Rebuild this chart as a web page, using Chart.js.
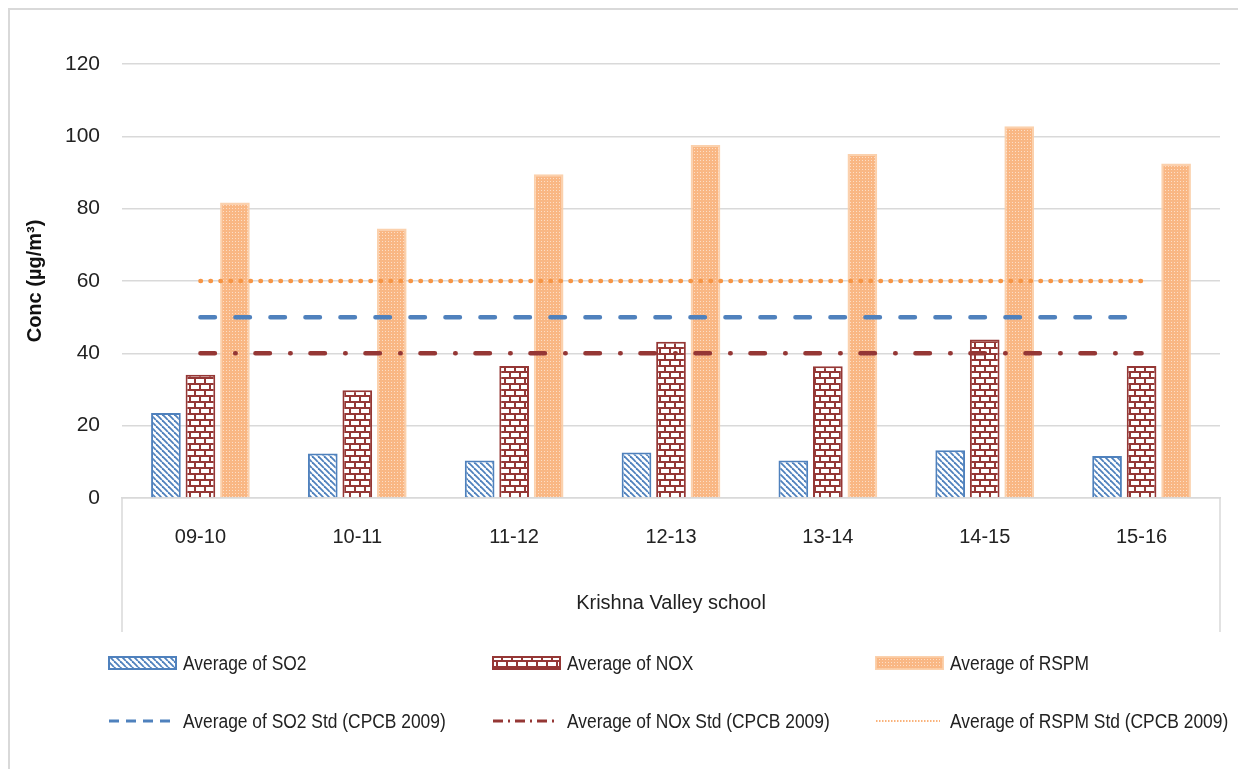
<!DOCTYPE html>
<html>
<head>
<meta charset="utf-8">
<script src="https://cdn.jsdelivr.net/npm/chart.js@4/dist/chart.umd.min.js"></script>
<style>
  html, body { margin: 0; padding: 0; background: #fff; overflow: hidden; }
  #wrap { position: relative; width: 1238px; height: 769px; overflow: hidden; }
  #frame { position: absolute; left: 8px; top: 8px; width: 1300px; height: 800px; border: 2px solid #d9d9d9; }
  #chart { position: absolute; left: 0; top: 0; }
  .leg { position: absolute; display: flex; align-items: center; white-space: nowrap;
         font-family: 'Liberation Sans', Arial, sans-serif; font-size: 20px; color: #222; }
  .leg canvas { margin-right: 5px; }
  .leg span { display: inline-block; transform: scaleX(0.87); transform-origin: left center; }
</style>
</head>
<body>
<div id="wrap">
  <div id="frame"></div>
  <canvas id="chart" width="1238" height="769"></canvas>
  <div id="legend"></div>
</div>
<script>
var categories = ["09-10", "10-11", "11-12", "12-13", "13-14", "14-15", "15-16"];
var so2 = [23.5, 12.3, 10.4, 12.6, 10.4, 13.2, 11.6];
var nox = [34.1, 29.8, 36.5, 43.2, 36.4, 43.8, 36.5];
var rspm = [81.7, 74.5, 89.5, 97.6, 95.1, 102.8, 92.5];
var so2Std = [50, 50, 50, 50, 50, 50, 50];
var noxStd = [40, 40, 40, 40, 40, 40, 40];
var rspmStd = [60, 60, 60, 60, 60, 60, 60];
var yTicks = [0, 20, 40, 60, 80, 100, 120];

var FONT = "'Liberation Sans', Arial, sans-serif";
var BLUE = "#4f81bd";
var RED = "#953735";
var ORANGE = "#f79646";

function makeTile(w, h, draw) {
  var c = document.createElement("canvas");
  c.width = w;
  c.height = h;
  draw(c.getContext("2d"));
  return c;
}

// diagonal hatch for SO2
var tileSO2 = makeTile(6, 6, function (g) {
  g.fillStyle = "#fff";
  g.fillRect(0, 0, 6, 6);
  g.strokeStyle = BLUE;
  g.lineWidth = 1.8;
  for (var k = -6; k <= 6; k += 6) {
    g.beginPath();
    g.moveTo(k, 0);
    g.lineTo(k + 6, 6);
    g.stroke();
  }
});

// brick pattern for NOX
var tileNOX = makeTile(10, 12, function (g) {
  g.fillStyle = RED;
  g.fillRect(0, 0, 10, 12);
  g.fillStyle = "#fff";
  g.fillRect(1, 1, 8, 4);
  g.fillRect(6, 7, 4, 4);
  g.fillRect(0, 7, 4, 4);
});

// fine dotted fill for RSPM
var tileRSPM = makeTile(3, 3, function (g) {
  g.fillStyle = "#f9b784";
  g.fillRect(0, 0, 3, 3);
  g.fillStyle = "rgba(255,255,255,0.55)";
  g.fillRect(1, 1, 1, 1);
});

var ctx = document.getElementById("chart").getContext("2d");
var patSO2 = ctx.createPattern(tileSO2, "repeat");
var patNOX = ctx.createPattern(tileNOX, "repeat");
var patRSPM = ctx.createPattern(tileRSPM, "repeat");

var axisBox = {
  id: "axisBox",
  afterDraw: function (chart) {
    var a = chart.chartArea;
    var xs = chart.scales.x;
    var c = chart.ctx;
    c.save();
    c.strokeStyle = "#d9d9d9";
    c.lineWidth = 1.5;
    c.beginPath();
    c.moveTo(a.left, a.bottom);
    c.lineTo(a.left, xs.bottom);
    c.moveTo(a.right, a.bottom);
    c.lineTo(a.right, xs.bottom);
    c.stroke();
    c.restore();
  }
};

var barCommon = { type: "bar", order: 1, categoryPercentage: 0.66, barPercentage: 0.86, borderWidth: 2 };

var chart = new Chart(ctx, {
  data: {
    labels: categories,
    datasets: [
      Object.assign({ label: "Average of SO2", data: so2, backgroundColor: patSO2, borderColor: BLUE }, barCommon),
      Object.assign({ label: "Average of NOX", data: nox, backgroundColor: patNOX, borderColor: RED }, barCommon),
      Object.assign({ label: "Average of RSPM", data: rspm, backgroundColor: patRSPM, borderColor: "rgba(251,204,164,0.9)" }, barCommon),
      {
        type: "line", order: 0, label: "Average of SO2 Std (CPCB 2009)", data: so2Std,
        borderColor: BLUE, borderWidth: 4.5, borderDash: [14.5, 20.5], borderCapStyle: "round",
        pointRadius: 0, fill: false
      },
      {
        type: "line", order: 0, label: "Average of NOx Std (CPCB 2009)", data: noxStd,
        borderColor: RED, borderWidth: 4.5, borderDash: [14.5, 20.25, 0.5, 19.75], borderCapStyle: "round",
        pointRadius: 0, fill: false
      },
      {
        type: "line", order: 0, label: "Average of RSPM Std (CPCB 2009)", data: rspmStd,
        borderColor: ORANGE, borderWidth: 4.5, borderDash: [0.5, 9.5], borderCapStyle: "round",
        pointRadius: 0, fill: false
      }
    ]
  },
  options: {
    responsive: false,
    animation: false,
    devicePixelRatio: 1,
    layout: { padding: { left: 10, top: 64, right: 18, bottom: 137 } },
    plugins: { legend: { display: false }, tooltip: { enabled: false } },
    scales: {
      x: {
        offset: true,
        grid: { display: false, drawTicks: false },
        border: { display: true, color: "#d9d9d9", width: 1.5 },
        ticks: { font: { family: FONT, size: 20 }, color: "#222", padding: 27, maxRotation: 0 },
        title: { display: true, text: "Krishna Valley school", font: { family: FONT, size: 20 }, color: "#222", padding: { top: 0, bottom: 17 } },
        afterFit: function (s) { s.height = 134; }
      },
      y: {
        min: 0,
        max: 120,
        afterBuildTicks: function (s) {
          s.ticks = yTicks.map(function (v) { return { value: v }; });
        },
        grid: { color: "#d9d9d9", lineWidth: 1.5, drawTicks: false },
        border: { display: false },
        ticks: { font: { family: FONT, size: 21 }, color: "#222", padding: 22 },
        title: { display: true, text: "Conc (µg/m³)", font: { family: FONT, size: 20, weight: "bold" }, color: "#111", padding: { top: 13, bottom: 0 } },
        afterFit: function (s) { s.width = 112; }
      }
    }
  },
  plugins: [axisBox]
});

// legend laid out like the reference, two rows of three
function barMarker(tile, border) {
  var c = document.createElement("canvas");
  c.width = 70;
  c.height = 16;
  var g = c.getContext("2d");
  g.fillStyle = g.createPattern(tile, "repeat");
  g.fillRect(1, 2, 67, 12);
  g.strokeStyle = border;
  g.lineWidth = 2;
  g.strokeRect(1, 2, 67, 12);
  return c;
}

function lineMarker(color, width, dash) {
  var c = document.createElement("canvas");
  c.width = 70;
  c.height = 16;
  var g = c.getContext("2d");
  g.strokeStyle = color;
  g.lineWidth = width;
  g.setLineDash(dash);
  g.beginPath();
  g.moveTo(1, 8);
  g.lineTo(65, 8);
  g.stroke();
  return c;
}

var legendItems = [
  { text: chart.data.datasets[0].label, marker: barMarker(tileSO2, BLUE), x: 108, y: 663 },
  { text: chart.data.datasets[1].label, marker: barMarker(tileNOX, RED), x: 492, y: 663 },
  { text: chart.data.datasets[2].label, marker: barMarker(tileRSPM, "rgba(251,204,164,0.9)"), x: 875, y: 663 },
  { text: chart.data.datasets[3].label, marker: lineMarker(BLUE, 3, [10, 7]), x: 108, y: 721 },
  { text: chart.data.datasets[4].label, marker: lineMarker(RED, 3, [10, 5, 2, 5]), x: 492, y: 721 },
  { text: chart.data.datasets[5].label, marker: lineMarker("#fab27a", 2, [1.5, 1.5]), x: 875, y: 721 }
];

var legendEl = document.getElementById("legend");
legendItems.forEach(function (it) {
  var d = document.createElement("div");
  d.className = "leg";
  d.style.left = it.x + "px";
  d.style.top = (it.y - 11) + "px";
  d.style.height = "22px";
  d.appendChild(it.marker);
  var s = document.createElement("span");
  s.textContent = it.text;
  d.appendChild(s);
  legendEl.appendChild(d);
});
</script>
</body>
</html>
